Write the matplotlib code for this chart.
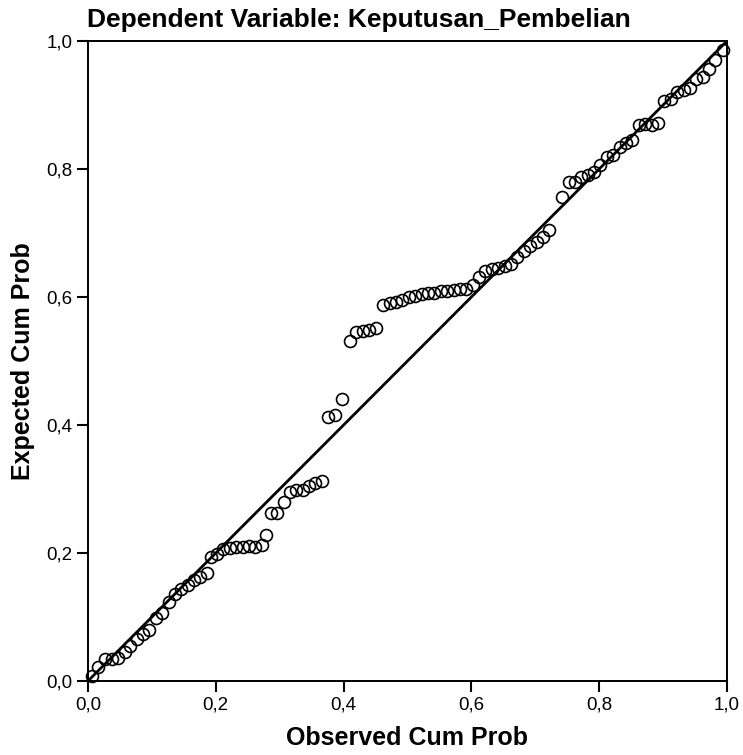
import numpy as np
import matplotlib
matplotlib.use("Agg")
import matplotlib.pyplot as plt

plt.rcParams['font.family'] = ['Liberation Sans', 'DejaVu Sans']

# observed / expected cumulative probabilities
observed = [0.006, 0.016, 0.026, 0.037, 0.047, 0.058, 0.066, 0.076, 0.086, 0.096,
            0.106, 0.116, 0.126, 0.136, 0.146, 0.156, 0.166, 0.176, 0.186, 0.192,
            0.202, 0.212, 0.222, 0.232, 0.242, 0.252, 0.262, 0.272, 0.278, 0.286,
            0.296, 0.306, 0.316, 0.326, 0.336, 0.346, 0.356, 0.366, 0.376, 0.386,
            0.398, 0.410, 0.420, 0.430, 0.440, 0.450, 0.462, 0.472, 0.482, 0.492,
            0.502, 0.512, 0.522, 0.532, 0.542, 0.552, 0.562, 0.572, 0.582, 0.592,
            0.602, 0.612, 0.622, 0.632, 0.642, 0.652, 0.662, 0.672, 0.682, 0.692,
            0.702, 0.712, 0.722, 0.742, 0.752, 0.762, 0.772, 0.782, 0.792, 0.802,
            0.812, 0.822, 0.832, 0.842, 0.852, 0.862, 0.872, 0.882, 0.892, 0.902,
            0.912, 0.922, 0.932, 0.942, 0.952, 0.962, 0.972, 0.982, 0.994]
expected = [0.008, 0.022, 0.035, 0.034, 0.036, 0.045, 0.055, 0.066, 0.074, 0.080,
            0.098, 0.107, 0.124, 0.136, 0.143, 0.150, 0.158, 0.163, 0.168, 0.194,
            0.198, 0.206, 0.208, 0.209, 0.210, 0.211, 0.210, 0.212, 0.228, 0.262,
            0.262, 0.280, 0.296, 0.298, 0.298, 0.304, 0.310, 0.312, 0.413, 0.415,
            0.440, 0.531, 0.545, 0.547, 0.548, 0.551, 0.588, 0.590, 0.592, 0.596,
            0.600, 0.602, 0.604, 0.606, 0.607, 0.609, 0.610, 0.611, 0.612, 0.613,
            0.618, 0.632, 0.640, 0.643, 0.646, 0.648, 0.652, 0.662, 0.672, 0.680,
            0.686, 0.694, 0.705, 0.756, 0.779, 0.780, 0.788, 0.791, 0.796, 0.806,
            0.818, 0.822, 0.834, 0.840, 0.846, 0.868, 0.870, 0.868, 0.872, 0.906,
            0.910, 0.920, 0.924, 0.926, 0.940, 0.944, 0.956, 0.970, 0.986]

ticks = [0.0, 0.2, 0.4, 0.6, 0.8, 1.0]
tick_labels = ['0,0', '0,2', '0,4', '0,6', '0,8', '1,0']

fig = plt.figure(figsize=(7.43, 7.55), dpi=100)
ax = fig.add_axes([88/743, 74/755, 639/743, 640/755])

ax.plot([0, 1], [0, 1], color='black', lw=2.0, zorder=2)
ax.plot(observed, expected, 'o', ms=8.6, mfc='none', mec='black', mew=1.2, zorder=3, clip_on=False)

ax.set_xlim(0, 1)
ax.set_ylim(0, 1)
ax.set_xticks(ticks)
ax.set_xticklabels(tick_labels)
ax.set_yticks(ticks)
ax.set_yticklabels(tick_labels)
ax.tick_params(direction='out', length=8, width=1.5, labelsize=13.5, pad=3)
for s in ax.spines.values():
    s.set_linewidth(1.4)

ax.set_xlabel('Observed Cum Prob', fontsize=18, fontweight='bold', labelpad=9)
ax.set_ylabel('Expected Cum Prob', fontsize=18, fontweight='bold', labelpad=8)
fig.text(87/743, 1 - 20/755, 'Dependent Variable: Keputusan_Pembelian',
         fontsize=19, fontweight='bold', ha='left', va='center')

fig.savefig('out.png', dpi=100)
